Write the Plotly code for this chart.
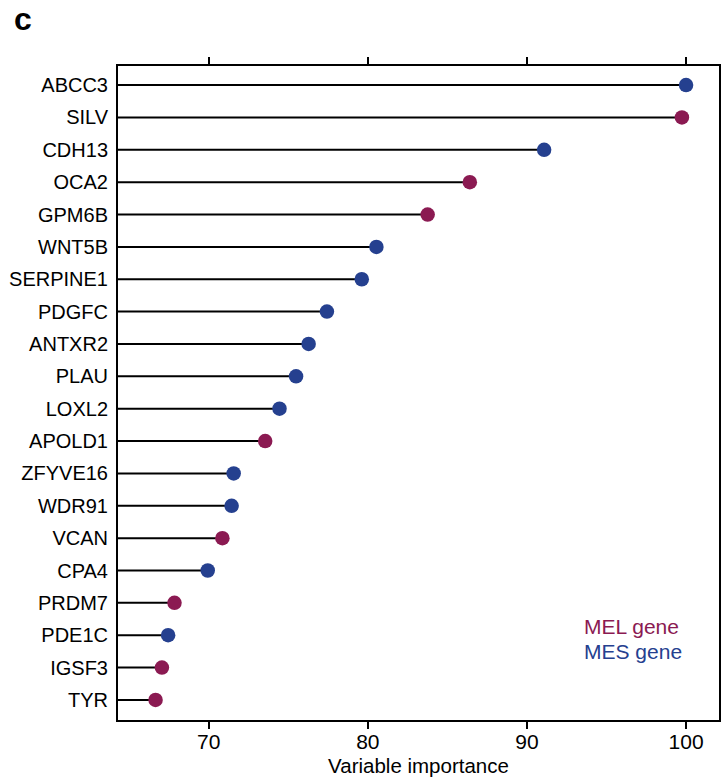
import plotly.graph_objects as go

genes = ["ABCC3", "SILV", "CDH13", "OCA2", "GPM6B", "WNT5B", "SERPINE1", "PDGFC",
         "ANTXR2", "PLAU", "LOXL2", "APOLD1", "ZFYVE16", "WDR91", "VCAN", "CPA4",
         "PRDM7", "PDE1C", "IGSF3", "TYR"]
importance = [100.0, 99.74, 91.08, 86.41, 83.76, 80.54, 79.62, 77.43,
              76.28, 75.49, 74.45, 73.55, 71.57, 71.44, 70.86, 69.94,
              67.85, 67.45, 67.06, 66.66]
gene_type = ["MES", "MEL", "MES", "MEL", "MEL", "MES", "MES", "MES",
             "MES", "MES", "MES", "MEL", "MES", "MES", "MEL", "MES",
             "MEL", "MES", "MEL", "MEL"]

colors = {"MEL": "#8B1A52", "MES": "#25408F"}
x_min, x_max = 64.3, 102.07

fig = go.Figure()

lx, ly = [], []
for g, v in zip(genes, importance):
    lx += [x_min, v, None]
    ly += [g, g, None]
fig.add_trace(go.Scatter(x=lx, y=ly, mode="lines",
                         line=dict(color="black", width=2), hoverinfo="skip",
                         showlegend=False))

fig.add_trace(go.Scatter(x=importance, y=genes, mode="markers",
                         marker=dict(size=14.5, color=[colors[t] for t in gene_type]),
                         showlegend=False))

fig.update_layout(
    width=721, height=779,
    margin=dict(l=118, r=0, t=66, b=59),
    plot_bgcolor="white", paper_bgcolor="white",
    font=dict(family="Liberation Sans, Arial, sans-serif", size=20, color="black"),
    xaxis=dict(range=[x_min, x_max], tickvals=[70, 80, 90, 100],
               ticks="outside", ticklen=7, tickwidth=1.5, tickcolor="black",
               tickfont=dict(size=21), ticklabelstandoff=-5,
               showline=True, linecolor="black", linewidth=2, mirror="ticks",
               showgrid=False, zeroline=False,
               title=dict(text="Variable importance", standoff=6,
                          font=dict(size=20.5))),
    yaxis=dict(categoryorder="array", categoryarray=genes[::-1],
               range=[-0.62, 19.59], ticks="", ticklabelstandoff=4,
               tickfont=dict(size=20),
               showline=True, linecolor="black", linewidth=2, mirror=True,
               showgrid=False, zeroline=False),
)

fig.add_annotation(text="<b>c</b>", xref="paper", yref="paper", x=-0.177, y=1.072,
                   xanchor="left", yanchor="middle", showarrow=False,
                   font=dict(size=32))
fig.add_annotation(text="MEL gene", xref="paper", yref="paper", x=0.772, y=0.143,
                   xanchor="left", yanchor="middle", showarrow=False,
                   font=dict(size=21, color=colors["MEL"]))
fig.add_annotation(text="MES gene", xref="paper", yref="paper", x=0.772, y=0.104,
                   xanchor="left", yanchor="middle", showarrow=False,
                   font=dict(size=21, color=colors["MES"]))

fig.write_html("out.html")
